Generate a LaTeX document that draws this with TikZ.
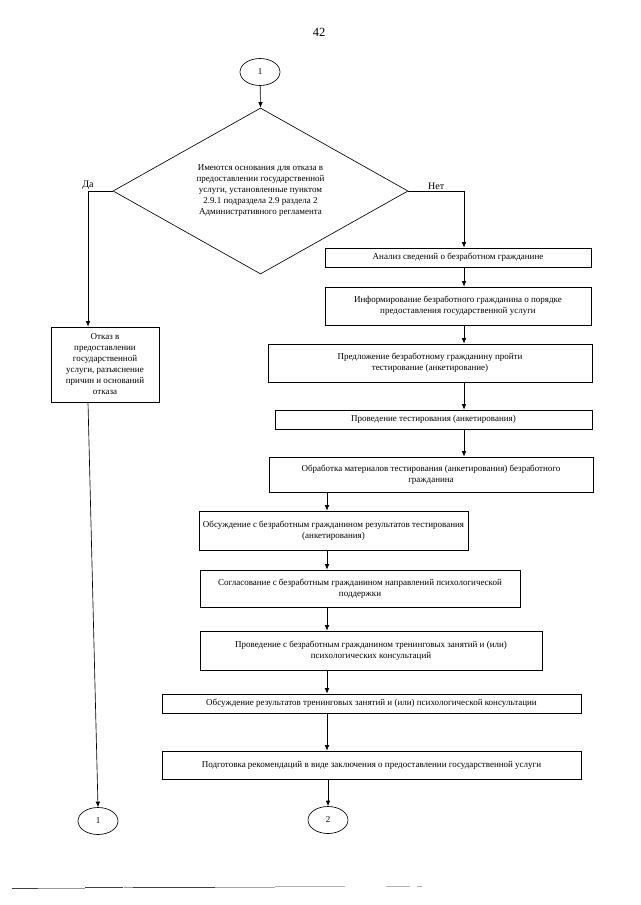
\documentclass[tikz,border=0pt]{standalone}
\usepackage{fontspec}
\setmainfont{Liberation Serif}
\usetikzlibrary{shapes.geometric,arrows.meta}
\begin{document}
\begin{tikzpicture}[x=1pt,y=-1pt,
  box/.style={draw, line width=0.65pt, align=center, inner sep=1pt, font=\fontsize{9}{11}\selectfont},
  arr/.style={line width=0.65pt, -{Latex[length=5.5pt,width=4.5pt]}},
  term/.style={draw, ellipse, line width=0.65pt, minimum width=40pt, minimum height=27pt, inner sep=0pt, font=\fontsize{9}{10}\selectfont},
  lbl/.style={font=\fontsize{10}{11}\selectfont, inner sep=1.5pt},
  scan/.style={line width=1pt}]
\useasboundingbox (0,0) rectangle (640,905);
\node[font=\fontsize{12.5}{14}\selectfont] (pg) at (319,32) {42};
\node[term] (c1) at (260,72) {1};
\node[draw, diamond, aspect=1.78, minimum width=295pt, minimum height=166pt, inner sep=0pt, line width=0.65pt, align=center, font=\fontsize{9}{11}\selectfont] (dia) at (260.5,191)
  {Имеются основания для отказа в\\предоставлении государственной\\услуги, установленные пунктом\\2.9.1 подраздела 2.9 раздела 2\\Административного регламента};
\node[box, minimum width=108pt, minimum height=75pt] (lb) at (105,364.5)
  {Отказ в\\предоставлении\\государственной\\услуги, разъяснение\\причин и оснований\\отказа};
\node[box, minimum width=266pt, minimum height=19pt] (b1) at (458,257.5) {Анализ сведений о безработном гражданине};
\node[box, minimum width=266pt, minimum height=38pt] (b2) at (458,306) {Информирование безработного гражданина о порядке\\предоставления государственной услуги};
\node[box, minimum width=324pt, minimum height=38pt] (b3) at (430,363) {Предложение безработному гражданину пройти\\тестирование (анкетирование)};
\node[box, minimum width=317pt, minimum height=19pt] (b4) at (433.5,419.5) {Проведение тестирования (анкетирования)};
\node[box, minimum width=324pt, minimum height=35pt] (b5) at (431,474.5) {Обработка материалов тестирования (анкетирования) безработного\\гражданина};
\node[box, minimum width=269pt, minimum height=39pt] (b6) at (333.5,530.5) {Обсуждение с безработным гражданином результатов тестирования\\(анкетирования)};
\node[box, minimum width=320pt, minimum height=37pt] (b7) at (360,588.5) {Согласование с безработным гражданином направлений психологической\\поддержки};
\node[box, minimum width=342pt, minimum height=39pt] (b8) at (371,650.5) {Проведение с безработным гражданином тренинговых занятий и (или)\\психологических консультаций};
\node[box, minimum width=419pt, minimum height=19pt] (b9) at (371.5,703.5) {Обсуждение результатов тренинговых занятий и (или) психологической консультации};
\node[box, minimum width=419pt, minimum height=28pt] (b10) at (371.5,765) {Подготовка рекомендаций в виде заключения о предоставлении государственной услуги};
\node[term] (c2) at (328,820) {2};
\node[term] (c1b) at (98,821) {1};
\coordinate (xr) at (464,0);
\coordinate (xm) at (327,0);
\coordinate (da) at (88,191);
\coordinate (net) at (464,191);
\draw[arr] (c1) -- (dia.north);
\draw[arr] (dia.west) -- (da) -- (da |- lb.north);
\draw[arr] (dia.east) -- (net) -- (net |- b1.north);
\node[lbl, anchor=south] (ylab) at (da) {Да};
\path (dia.east) -- node[lbl, above] (nlab) {Нет} (net);
\draw[arr] (b1.south -| xr) -- (b2.north -| xr);
\draw[arr] (b2.south -| xr) -- (b3.north -| xr);
\draw[arr] (b3.south -| xr) -- (b4.north -| xr);
\draw[arr] (b4.south -| xr) -- (b5.north -| xr);
\draw[arr] (b5.south -| xm) -- (b6.north -| xm);
\draw[arr] (b6.south -| xm) -- (b7.north -| xm);
\draw[arr] (b7.south -| xm) -- (b8.north -| xm);
\draw[arr] (b8.south -| xm) -- (b9.north -| xm);
\draw[arr] (b9.south -| xm) -- (b10.north -| xm);
\draw[arr] (b10.south -| c2) -- (c2.north);
\draw[arr] (lb.south -| da) -- (c1b.north);
% scanned rule at the foot of the page
\draw[scan, black!75] (12,888) -- (38,888);
\draw[scan, black!40] (38,888) -- (85,888);
\draw[scan, black!75] (85,887.5) -- (123,887.5);
\draw[scan, black!40] (124,887.5) -- (133,887.5);
\draw[scan, black!75] (133,887.5) -- (215,887.5);
\draw[scan, black!35] (215,887.5) -- (275,887.5);
\draw[scan, black!30] (275,886.5) -- (345,886.5);
\draw[scan, black!30] (386,886.5) -- (410,886.5);
\draw[scan, black!30] (417,886.5) -- (422,886.5);
\end{tikzpicture}
\end{document}
